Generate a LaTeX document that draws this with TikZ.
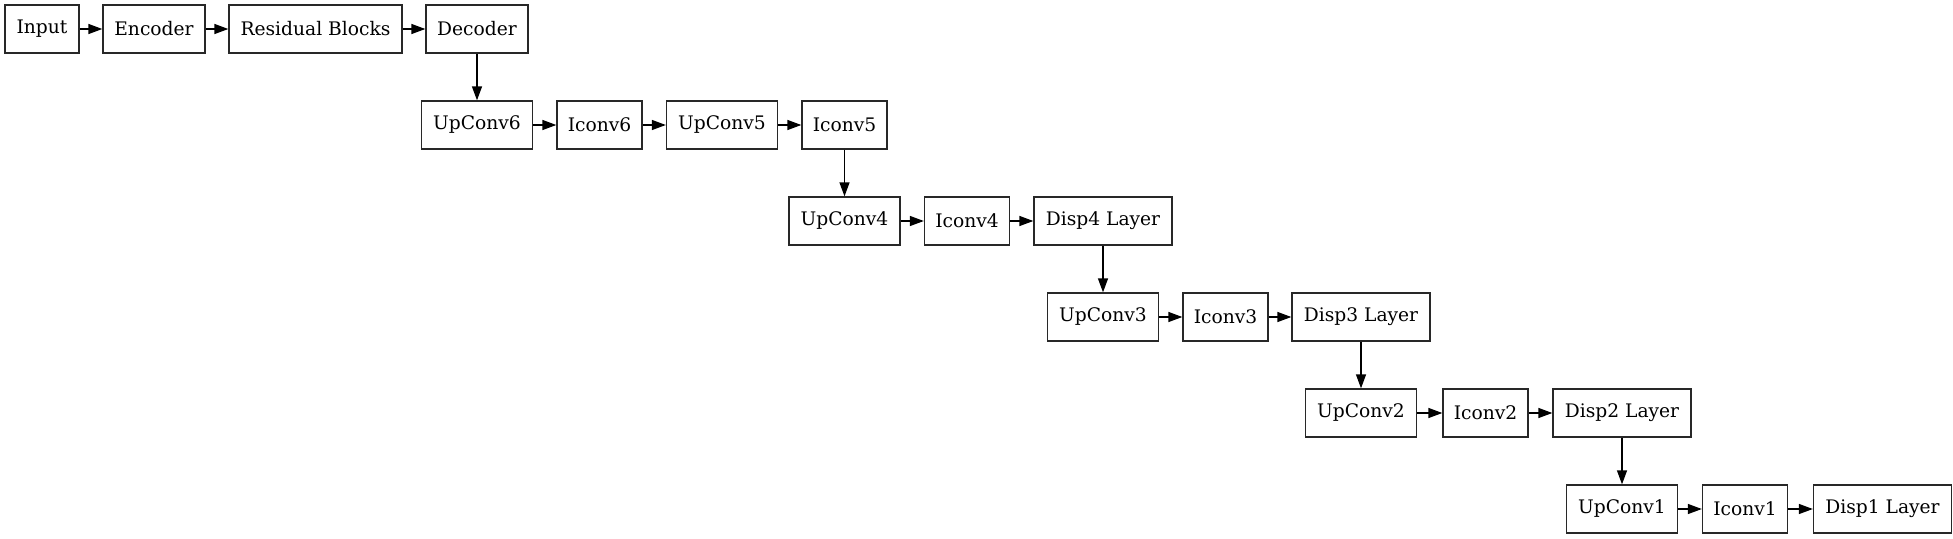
\documentclass[tikz,border=0pt]{standalone}
\usepackage{fontspec}
\setmainfont{DejaVu Serif}
\usetikzlibrary{arrows.meta}

\tikzset{every picture/.style={line width=0.75pt}}
\tikzset{
  blk/.style={draw={rgb, 255:red, 40; green, 40; blue, 40}, line width=1pt, minimum height=36pt, inner sep=0pt, font=\fontsize{14pt}{16pt}\selectfont},
  flow/.style={line width=1pt, -{Triangle[length=10.5pt,width=7.5pt]}}
}

\begin{document}
\begin{tikzpicture}[x=0.75pt,y=0.75pt,yscale=-1,xscale=1]
	\useasboundingbox (0,0) rectangle (1953,539);

	%Shape: Rectangle -- row 1
	\node [blk, minimum width=55.5pt] (input) at (42,29) {Input};
	\node [blk, minimum width=76.5pt] (enc) at (154,29) {Encoder};
	\node [blk, minimum width=129.75pt] (res) at (315.5,29) {Residual Blocks};
	\node [blk, minimum width=76.5pt] (dec) at (477,29) {Decoder};
	%Shape: Rectangle -- row 2
	\node [blk, minimum width=83.25pt] (up6) at (477,125) {UpConv6};
	\node [blk, minimum width=63.75pt] (ic6) at (599.5,125) {Iconv6};
	\node [blk, minimum width=83.25pt] (up5) at (722,125) {UpConv5};
	\node [blk, minimum width=63.75pt] (ic5) at (844.5,125) {Iconv5};
	%Shape: Rectangle -- row 3
	\node [blk, minimum width=83.25pt] (up4) at (844.5,221) {UpConv4};
	\node [blk, minimum width=63.75pt] (ic4) at (967,221) {Iconv4};
	\node [blk, minimum width=103.5pt] (disp4) at (1103,221) {Disp4 Layer};
	%Shape: Rectangle -- row 4
	\node [blk, minimum width=83.25pt] (up3) at (1103,317) {UpConv3};
	\node [blk, minimum width=63.75pt] (ic3) at (1225.5,317) {Iconv3};
	\node [blk, minimum width=103.5pt] (disp3) at (1361,317) {Disp3 Layer};
	%Shape: Rectangle -- row 5
	\node [blk, minimum width=83.25pt] (up2) at (1361,413) {UpConv2};
	\node [blk, minimum width=63.75pt] (ic2) at (1485.5,413) {Iconv2};
	\node [blk, minimum width=103.5pt] (disp2) at (1622,413) {Disp2 Layer};
	%Shape: Rectangle -- row 6
	\node [blk, minimum width=83.25pt] (up1) at (1622,509) {UpConv1};
	\node [blk, minimum width=63.75pt] (ic1) at (1745,509) {Iconv1};
	\node [blk, minimum width=103.5pt] (disp1) at (1882.5,509) {Disp1 Layer};

	%Straight Lines -- across
	\draw [flow] (input) -- (enc);
	\draw [flow] (enc) -- (res);
	\draw [flow] (res) -- (dec);
	\draw [flow] (up6) -- (ic6);
	\draw [flow] (ic6) -- (up5);
	\draw [flow] (up5) -- (ic5);
	\draw [flow] (up4) -- (ic4);
	\draw [flow] (ic4) -- (disp4);
	\draw [flow] (up3) -- (ic3);
	\draw [flow] (ic3) -- (disp3);
	\draw [flow] (up2) -- (ic2);
	\draw [flow] (ic2) -- (disp2);
	\draw [flow] (up1) -- (ic1);
	\draw [flow] (ic1) -- (disp1);
	%Straight Lines -- down
	\draw [flow] (dec.south) -- (dec.south |- up6.north);
	\draw [flow] (ic5.south) -- (ic5.south |- up4.north);
	\draw [flow] (disp4.south) -- (disp4.south |- up3.north);
	\draw [flow] (disp3.south) -- (disp3.south |- up2.north);
	\draw [flow] (disp2.south) -- (disp2.south |- up1.north);

\end{tikzpicture}
\end{document}
